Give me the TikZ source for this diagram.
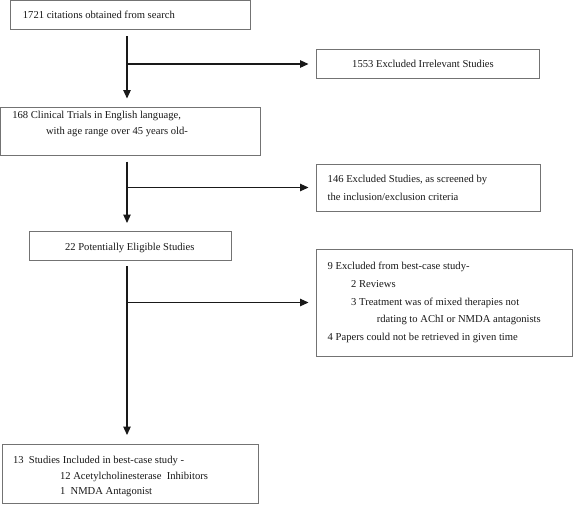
\documentclass[tikz,border=0pt]{standalone}
\usepackage{fontspec}
\setmainfont{Liberation Serif}
\usetikzlibrary{arrows.meta,calc}
\begin{document}
\begin{tikzpicture}[x=1pt,y=-1pt,
  box/.style={draw=black!55, line width=0.9pt, rectangle, inner sep=0pt, outer sep=0pt},
  txt/.style={anchor=base west, inner sep=0pt, text=black!90, font=\fontsize{10.6}{12}\selectfont},
  conn/.style={draw=black!90, line width=1.1pt, -{Triangle[length=8.5pt,width=7.5pt]}},
  line/.style={draw=black!90, line width=1.1pt}]
\useasboundingbox[fill=white] (0,0) rectangle (575,504);
\coordinate (spine) at (127,0);
% boxes
\node[box, minimum width=239.7pt, minimum height=28.8pt] (b1) at (130.15,14.9) {};
\node[box, minimum width=222.2pt, minimum height=29.4pt] (b2) at (427.9,64) {};
\node[box, minimum width=259.9pt, minimum height=47.7pt] (b3) at (130.45,131.15) {};
\node[box, minimum width=223.7pt, minimum height=47pt] (b4) at (428.65,187.5) {};
\node[box, minimum width=201.7pt, minimum height=28.5pt] (b5) at (130.15,245.75) {};
\node[box, minimum width=255.2pt, minimum height=107pt] (b6) at (444.4,302.5) {};
\node[box, minimum width=255.6pt, minimum height=59.3pt] (b7) at (130.7,473.65) {};
% texts
\node[txt] (t1) at (22.7,18) {1721 citations obtained from search};
\node[txt] (t2) at (352,67) {1553 Excluded Irrelevant Studies};
\node[txt] (t3a) at (12.1,118.5) {168 Clinical Trials in English language,};
\node[txt] (t3b) at (45.8,134.5) {with age range over 45 years old-};
\node[txt] (t4a) at (327.5,182.5) {146 Excluded Studies, as screened by};
\node[txt] (t4b) at (327.5,200.5) {the inclusion/exclusion criteria};
\node[txt] (t5) at (64.9,250.5) {22 Potentially Eligible Studies};
\node[txt] (t6a) at (327.5,269.5) {9 Excluded from best-case study-};
\node[txt] (t6b) at (351,287.5) {2 Reviews};
\node[txt] (t6c) at (351,305.5) {3 Treatment was of mixed therapies not};
\node[txt] (t6d) at (376.6,322.5) {rdating to AChI or NMDA antagonists};
\node[txt] (t6e) at (327.5,340.5) {4 Papers could not be retrieved in given time};
\node[txt] (t7a) at (12.8,463) {13\ \ Studies Included in best-case study -};
\node[txt] (t7b) at (59.8,479) {12 Acetylcholinesterase\ \ Inhibitors};
\node[txt] (t7c) at (59.8,494.5) {1\ \ NMDA Antagonist};
% connectors
\draw[conn, shorten <=6.7pt, shorten >=8.8pt] (b1.south -| spine) -- (b3.north -| spine);
\draw[conn, shorten <=6.7pt, shorten >=8.5pt] (b3.south -| spine) -- (b5.north -| spine);
\draw[conn, shorten <=6pt, shorten >=9pt] (b5.south -| spine) -- (b7.north -| spine);
\draw[conn, shorten >=8.3pt] (spine |- b2.west) -- (b2.west);
\draw[conn, shorten >=8.3pt] (spine |- b4.west) -- (b4.west);
\draw[conn, shorten >=8.3pt] (spine |- b6.west) -- (b6.west);
\end{tikzpicture}
\end{document}
